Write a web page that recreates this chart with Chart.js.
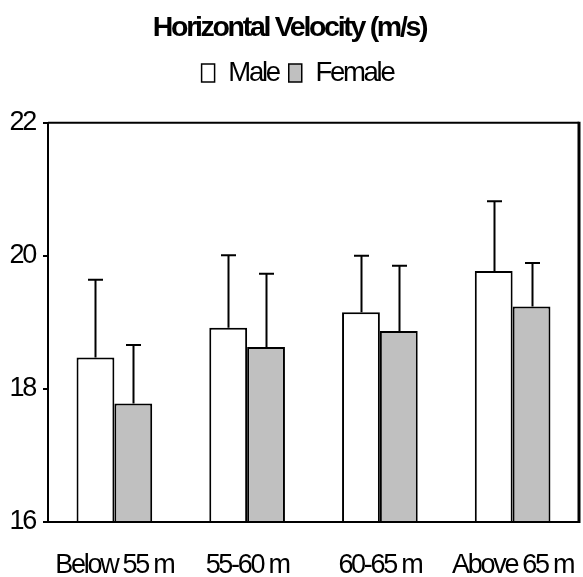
<!DOCTYPE html>
<html>
<head>
<meta charset="utf-8">
<script src="https://cdn.jsdelivr.net/npm/chart.js@4/dist/chart.umd.min.js"></script>
<style>
html,body{margin:0;padding:0;background:#fff;}
canvas{display:block;}
</style>
</head>
<body>
<canvas id="c" width="583" height="577"></canvas>
<script>
const categories = ["Below 55 m", "55-60 m", "60-65 m", "Above 65 m"];
const maleMeans = [18.47, 18.92, 19.15, 19.77];
const maleSD = [1.17, 1.09, 0.85, 1.05];
const femaleMeans = [17.78, 18.63, 18.87, 19.24];
const femaleSD = [0.88, 1.10, 0.98, 0.65];
const yTicks = [16, 18, 20, 22];
const titleText = "Horizontal Velocity (m/s)";
const seriesNames = ["Male", "Female"];

const FONT = "'Liberation Sans', Arial, sans-serif";
const SPACING = "-2.3px";

const spacingPlugin = {
  id: 'spacing',
  beforeInit(chart){
    chart.ctx.letterSpacing = SPACING;
    const lg = chart.legend;
    if (lg) {
      const fit = lg.fit;
      lg.fit = function(){ fit.call(this); this.height += 26; };
    }
  },
  beforeUpdate(chart){ chart.ctx.letterSpacing = SPACING; },
  beforeLayout(chart){ chart.ctx.letterSpacing = SPACING; },
  afterLayout(chart){ if (chart.legend) { chart.legend.left += 16; } },
  beforeDraw(chart){ chart.ctx.letterSpacing = SPACING; }
};

const errorBars = {
  id: 'errorBars',
  afterDatasetsDraw(chart){
    const ctx = chart.ctx;
    const y = chart.scales.y;
    const sds = [maleSD, femaleSD];
    ctx.save();
    ctx.strokeStyle = '#000';
    ctx.lineWidth = 2;
    chart.data.datasets.forEach((ds, i) => {
      const meta = chart.getDatasetMeta(i);
      meta.data.forEach((el, j) => {
        const top = y.getPixelForValue(ds.data[j] + sds[i][j]);
        const x = Math.round(el.x) + 0.5;
        ctx.beginPath();
        ctx.moveTo(x, el.y);
        ctx.lineTo(x, top);
        ctx.moveTo(x - 7.5, top);
        ctx.lineTo(x + 7.5, top);
        ctx.stroke();
      });
    });
    ctx.restore();
  }
};

const frame = {
  id: 'frame',
  afterDraw(chart){
    const a = chart.chartArea;
    const ctx = chart.ctx;
    ctx.save();
    ctx.strokeStyle = '#000';
    ctx.lineWidth = 2;
    ctx.beginPath();
    ctx.moveTo(a.left, a.top);
    ctx.lineTo(a.right, a.top);
    ctx.moveTo(a.left, a.top);
    ctx.lineTo(a.left, a.bottom);
    ctx.lineTo(a.right, a.bottom);
    ctx.stroke();
    ctx.lineWidth = 3;
    ctx.beginPath();
    ctx.moveTo(a.right, a.top - 1);
    ctx.lineTo(a.right, a.bottom + 1);
    ctx.stroke();
    ctx.restore();
  }
};

new Chart(document.getElementById('c'), {
  type: 'bar',
  data: {
    labels: categories,
    datasets: [
      { label: seriesNames[0], data: maleMeans, backgroundColor: '#ffffff', borderColor: '#000', borderWidth: 2, borderSkipped: false },
      { label: seriesNames[1], data: femaleMeans, backgroundColor: '#c0c0c0', borderColor: '#000', borderWidth: 2, borderSkipped: false }
    ]
  },
  options: {
    responsive: false,
    devicePixelRatio: 1,
    animation: false,
    layout: { autoPadding: false, padding: { left: 0, right: 4, top: 0, bottom: 0 } },
    datasets: { bar: { categoryPercentage: 0.57, barPercentage: 1.0 } },
    plugins: {
      tooltip: { enabled: false },
      title: {
        display: true,
        text: titleText,
        color: '#000',
        font: { family: FONT, size: 28.5, weight: 'bold' },
        padding: { top: 11, bottom: 4 }
      },
      legend: {
        display: true,
        labels: {
          color: '#000',
          font: { family: FONT, size: 27.5 },
          boxWidth: 13,
          boxHeight: 18,
          padding: 10,
          generateLabels(chart){
            return chart.data.datasets.map((ds, i) => ({
              text: ds.label,
              fillStyle: ds.backgroundColor,
              strokeStyle: '#000',
              lineWidth: 1.5,
              datasetIndex: i,
              hidden: false
            }));
          }
        }
      }
    },
    scales: {
      x: {
        afterFit(scale){ scale.height = 55; scale.paddingLeft = 0; scale.paddingRight = 0; },
        grid: { display: false, drawTicks: false },
        border: { display: false },
        ticks: { color: '#000', font: { family: FONT, size: 27 }, padding: 27, maxRotation: 0, autoSkip: false }
      },
      y: {
        min: 16, max: 22,
        afterFit(scale){ scale.width = 48; scale.paddingTop = 0; scale.paddingBottom = 0; },
        afterBuildTicks(scale){ scale.ticks = yTicks.map(v => ({ value: v })); },
        grid: { drawOnChartArea: false, drawTicks: true, tickLength: 5, color: '#000', lineWidth: 2 },
        border: { display: false },
        ticks: { color: '#000', font: { family: FONT, size: 27 }, padding: 8 }
      }
    }
  },
  plugins: [spacingPlugin, errorBars, frame]
});
</script>
</body>
</html>
